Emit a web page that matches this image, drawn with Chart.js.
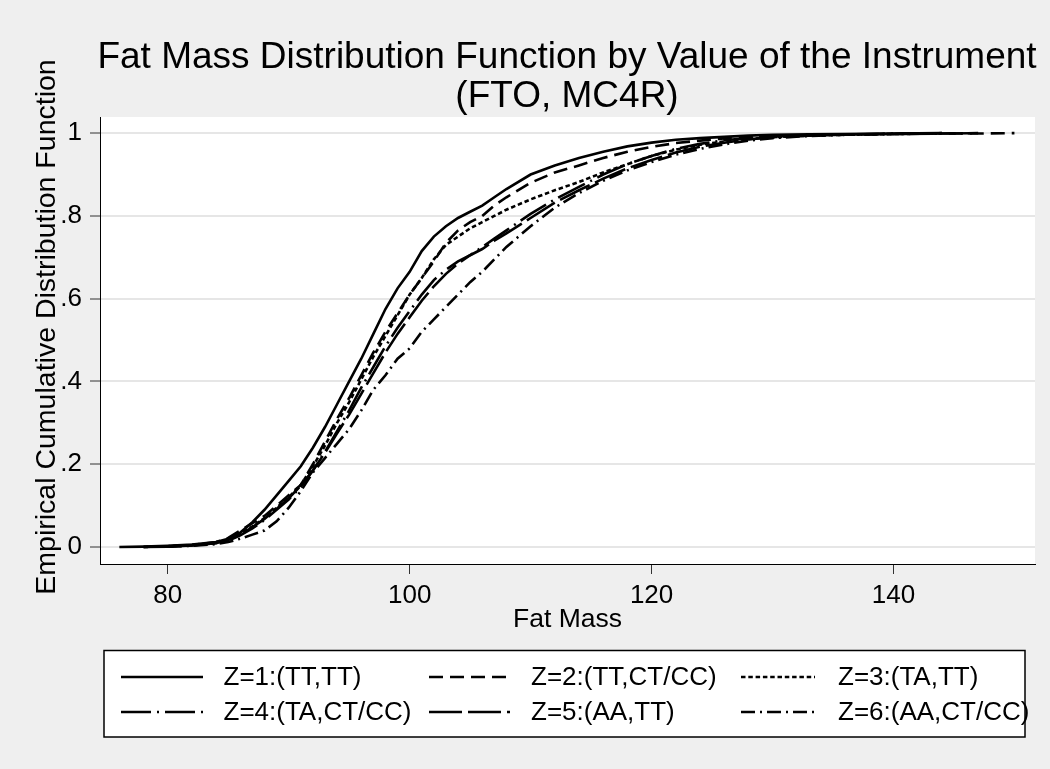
<!DOCTYPE html>
<html>
<head>
<meta charset="utf-8">
<title>Fat Mass Distribution Function</title>
<script src="https://cdn.jsdelivr.net/npm/chart.js@4.4.1/dist/chart.umd.min.js"></script>
<style>
  html, body { margin: 0; padding: 0; background: #efefef; }
  canvas { display: block; }
</style>
</head>
<body>
<canvas id="ecdfChart" width="1050" height="769"></canvas>
<script>
// 横轴取值（Fat Mass）
const fatMass = [76, 78, 80, 82, 84, 85, 86, 87, 88, 89, 90, 91, 92, 93, 94, 95, 96, 97, 98, 99,
  100, 101, 102, 103, 104, 105, 106, 107, 108, 110, 112, 114, 116, 118, 120, 122, 124, 126, 128, 130,
  133, 136, 140, 144, 147, 150];

// 各组经验分布函数
const z1 = [0, 0.001, 0.003, 0.006, 0.012, 0.02, 0.035, 0.06, 0.09, 0.125, 0.16, 0.195, 0.24, 0.29, 0.345, 0.40, 0.455, 0.515, 0.575, 0.625,
  0.665, 0.715, 0.75, 0.775, 0.795, 0.81, 0.825, 0.845, 0.865, 0.9, 0.922, 0.94, 0.955, 0.968, 0.977, 0.984, 0.988, 0.991, 0.994, 0.996,
  0.997, 0.998, 0.999, 1.0, null, null];
const z2 = [null, 0, 0.002, 0.005, 0.012, 0.022, 0.04, 0.058, 0.075, 0.10, 0.125, 0.15, 0.2, 0.255, 0.31, 0.36, 0.415, 0.47, 0.52, 0.565,
  0.61, 0.65, 0.69, 0.735, 0.765, 0.785, 0.80, 0.825, 0.845, 0.88, 0.905, 0.922, 0.94, 0.955, 0.967, 0.976, 0.982, 0.987, 0.99, 0.993,
  0.995, 0.997, 0.998, 0.999, 0.999, 1.0];
const z3 = [null, 0, 0.002, 0.005, 0.01, 0.018, 0.032, 0.05, 0.07, 0.095, 0.12, 0.15, 0.195, 0.245, 0.3, 0.35, 0.405, 0.46, 0.51, 0.56,
  0.61, 0.65, 0.695, 0.73, 0.75, 0.77, 0.785, 0.80, 0.815, 0.84, 0.862, 0.882, 0.905, 0.925, 0.945, 0.96, 0.972, 0.98, 0.986, 0.99,
  0.994, 0.996, 0.998, 1.0, null, null];
const z4 = [null, 0, 0.001, 0.004, 0.009, 0.015, 0.028, 0.045, 0.065, 0.09, 0.115, 0.145, 0.185, 0.23, 0.28, 0.33, 0.385, 0.435, 0.485, 0.53,
  0.57, 0.61, 0.645, 0.67, 0.69, 0.705, 0.725, 0.745, 0.765, 0.805, 0.84, 0.87, 0.9, 0.925, 0.945, 0.962, 0.974, 0.983, 0.988, 0.992,
  0.995, 0.997, 0.999, 1.0, null, null];
const z5 = [null, null, 0.001, 0.004, 0.01, 0.017, 0.03, 0.048, 0.068, 0.092, 0.118, 0.148, 0.185, 0.228, 0.275, 0.32, 0.37, 0.42, 0.47, 0.515,
  0.555, 0.595, 0.63, 0.66, 0.685, 0.705, 0.72, 0.74, 0.758, 0.795, 0.832, 0.862, 0.89, 0.915, 0.935, 0.953, 0.967, 0.977, 0.985, 0.99,
  0.994, 0.996, 0.998, 0.999, 1.0, null];
const z6 = [null, null, 0.001, 0.003, 0.007, 0.012, 0.02, 0.03, 0.04, 0.062, 0.095, 0.135, 0.18, 0.215, 0.25, 0.285, 0.33, 0.38, 0.415, 0.455,
  0.48, 0.52, 0.55, 0.58, 0.61, 0.64, 0.665, 0.695, 0.725, 0.775, 0.82, 0.855, 0.885, 0.91, 0.93, 0.948, 0.962, 0.973, 0.982, 0.988,
  0.993, 0.996, 0.998, 0.999, 1.0, null];

const seriesLabels = ['Z=1:(TT,TT)', 'Z=2:(TT,CT/CC)', 'Z=3:(TA,TT)', 'Z=4:(TA,CT/CC)', 'Z=5:(AA,TT)', 'Z=6:(AA,CT/CC)'];
const xTicks = [80, 100, 120, 140];
const yTicks = [0, 0.2, 0.4, 0.6, 0.8, 1];
const yTickLabels = ['0', '.2', '.4', '.6', '.8', '1'];

const chartTitle = ['Fat Mass Distribution Function by Value of the Instrument', '(FTO, MC4R)'];
const xTitle = 'Fat Mass';
const yTitle = 'Empirical Cumulative Distribution Function';

// 线型
const lineDashes = [[], [14, 7], [4.5, 2.8], [30, 6, 2, 6], [33, 6], [14, 5, 2, 5]];
const FONT = '"Liberation Sans", Arial, sans-serif';

function toPoints(values) {
  const pts = [];
  values.forEach((v, i) => {
    if (v !== null) pts.push({ x: fatMass[i], y: v });
  });
  return pts;
}

const datasets = [z1, z2, z3, z4, z5, z6].map((vals, i) => ({
  label: seriesLabels[i],
  data: toPoints(vals),
  borderColor: '#000',
  borderWidth: 2.6,
  borderDash: lineDashes[i],
  pointRadius: 0,
  tension: 0,
  fill: false
}));

// 绘图区白底
const plotBackground = {
  id: 'plotBackground',
  beforeDraw(chart) {
    const { ctx, chartArea: a } = chart;
    ctx.save();
    ctx.fillStyle = '#fff';
    ctx.fillRect(a.left, a.top, a.right - a.left, a.bottom - a.top);
    ctx.restore();
  }
};

// 标题和纵轴标题
const titles = {
  id: 'titles',
  afterDraw(chart) {
    const ctx = chart.ctx;
    ctx.save();
    ctx.fillStyle = '#000';
    ctx.textAlign = 'center';
    ctx.textBaseline = 'alphabetic';
    ctx.font = '37px ' + FONT;
    ctx.fillText(chartTitle[0], 567, 68);
    ctx.fillText(chartTitle[1], 567, 107);

    ctx.translate(47, 327);
    ctx.rotate(-Math.PI / 2);
    ctx.textBaseline = 'middle';
    ctx.font = '28.5px ' + FONT;
    ctx.fillText(yTitle, 0, 0);
    ctx.restore();
  }
};

// 图例框（三列两行）
const legendBox = {
  id: 'legendBox',
  afterDraw(chart) {
    const ctx = chart.ctx;
    const box = { left: 104, top: 650.5, right: 1025, bottom: 737 };
    const rows = [677, 712];
    const cols = [{ x0: 121, x1: 203, tx: 223.5 }, { x0: 429, x1: 510, tx: 531 }, { x0: 741, x1: 815, tx: 838 }];

    ctx.save();
    ctx.fillStyle = '#fff';
    ctx.fillRect(box.left, box.top, box.right - box.left, box.bottom - box.top);
    ctx.strokeStyle = '#000';
    ctx.lineWidth = 1.5;
    ctx.strokeRect(box.left, box.top, box.right - box.left, box.bottom - box.top);

    chart.data.datasets.forEach((ds, i) => {
      const c = cols[i % 3];
      const y = rows[Math.floor(i / 3)];
      ctx.beginPath();
      ctx.setLineDash(ds.borderDash);
      ctx.lineWidth = 2.5;
      ctx.moveTo(c.x0, y);
      ctx.lineTo(c.x1, y);
      ctx.stroke();
      ctx.setLineDash([]);

      ctx.fillStyle = '#000';
      ctx.font = '26px ' + FONT;
      ctx.textAlign = 'left';
      ctx.textBaseline = 'middle';
      ctx.fillText(ds.label, c.tx, y + 1);
    });
    ctx.restore();
  }
};

new Chart(document.getElementById('ecdfChart').getContext('2d'), {
  type: 'line',
  data: { datasets },
  plugins: [plotBackground, titles, legendBox],
  options: {
    responsive: false,
    animation: false,
    layout: { padding: { top: 117, right: 15, bottom: 129, left: 0 } },
    plugins: {
      legend: { display: false },
      title: { display: false },
      tooltip: { enabled: false }
    },
    scales: {
      x: {
        type: 'linear',
        min: 74.4,
        max: 151.7,
        afterBuildTicks: axis => { axis.ticks = xTicks.map(v => ({ value: v })); },
        afterFit: axis => { axis.height = 76; },
        ticks: { color: '#000', font: { family: FONT, size: 26 }, padding: 6, maxRotation: 0 },
        grid: { drawOnChartArea: false, drawTicks: true, tickLength: 10, tickColor: '#333', tickWidth: 1 },
        border: { display: true, color: '#000', width: 1 },
        title: { display: true, text: xTitle, color: '#000', font: { family: FONT, size: 26.5 }, padding: { top: 0, bottom: 4 } }
      },
      y: {
        type: 'linear',
        min: -0.041,
        max: 1.039,
        afterBuildTicks: axis => { axis.ticks = yTicks.map(v => ({ value: v })); },
        afterFit: axis => { axis.width = 100; },
        ticks: {
          color: '#000',
          font: { family: FONT, size: 26 },
          padding: 8,
          callback: v => yTickLabels[yTicks.indexOf(v)]
        },
        grid: { color: '#e6e6e6', lineWidth: 2, drawTicks: true, tickLength: 10, tickColor: '#333', tickWidth: 1 },
        border: { display: true, color: '#000', width: 1 }
      }
    }
  }
});
</script>
</body>
</html>
